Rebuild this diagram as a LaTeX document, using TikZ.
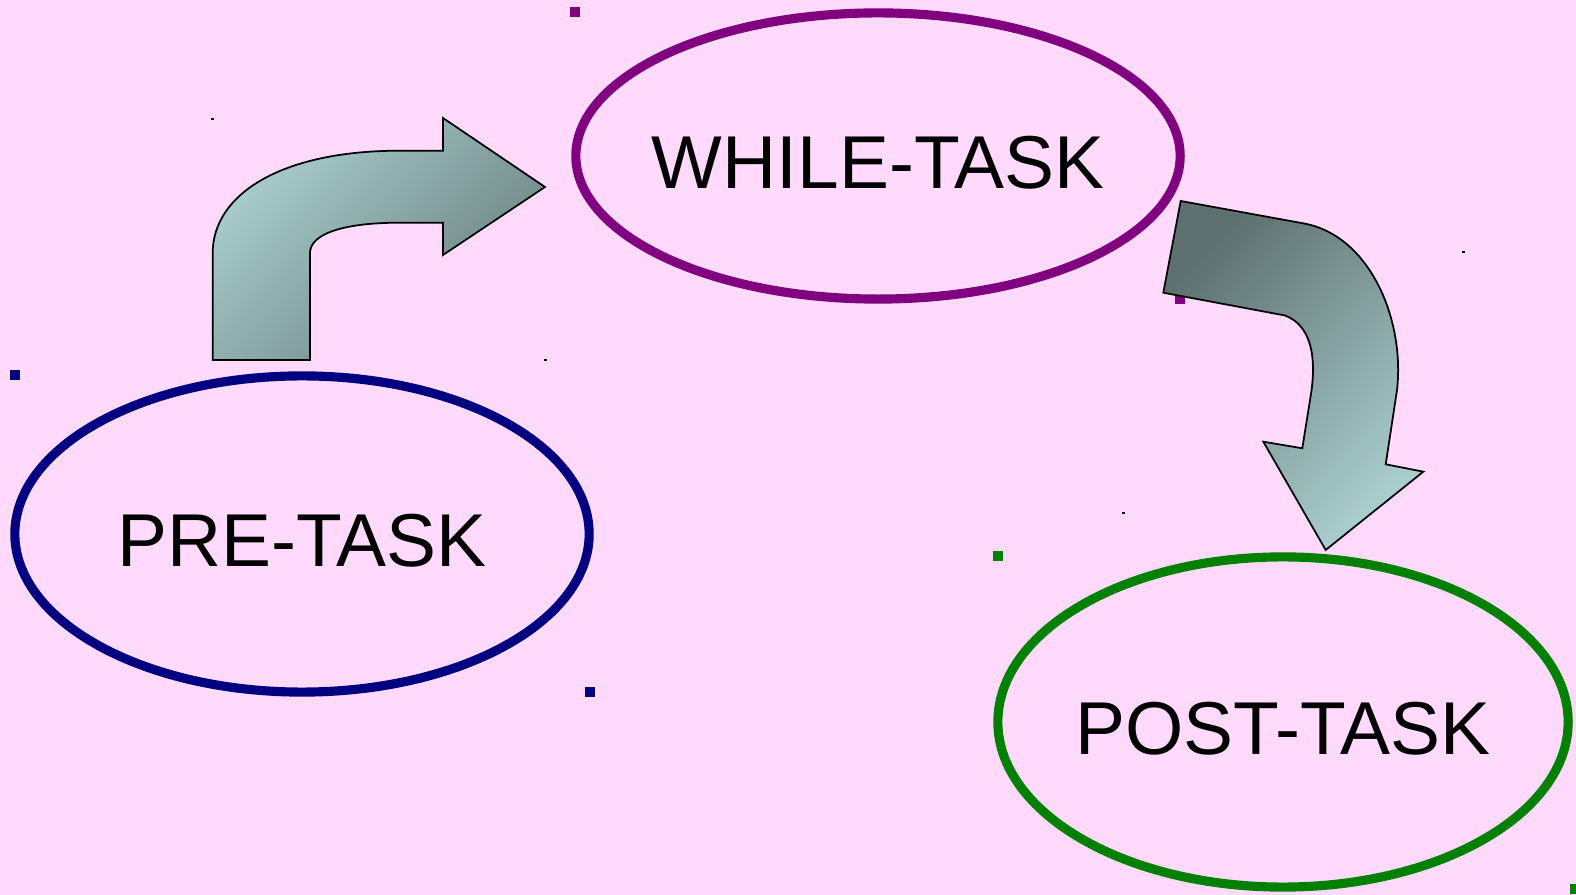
\documentclass[tikz,border=0pt]{standalone}
\usepackage{fontspec}
\setmainfont{Liberation Sans}
\usetikzlibrary{shapes.geometric}
\definecolor{bg}{HTML}{FFDAFC}
\definecolor{whilec}{HTML}{800080}
\definecolor{prec}{HTML}{000080}
\definecolor{postc}{HTML}{008000}
\definecolor{teallight}{HTML}{AACECE}
\definecolor{tealdark}{HTML}{5E7070}
\newcommand\tasktext[1]{\makebox[0pt]{\smash{\raisebox{-0.32cm}{#1}}}}

\begin{document}
\begin{tikzpicture}[
  x=0.01cm, y=-0.01cm,
  every node/.style={font=\fontsize{21.3}{25}\selectfont, text=black},
  task/.style={ellipse, draw, line width=2.6pt, inner sep=0pt},
  blockarrow/.style={draw=black, line width=0.5pt},
  handle/.style={fill=black}
]
\useasboundingbox (0,0) rectangle (1576,895);
\fill[bg] (0,0) rectangle (1576,895);

% selection handles
\fill[whilec] (570,7) rectangle (580,17);
\fill[whilec] (1175,294) rectangle (1185,304);
\fill[prec] (10,370) rectangle (20,380);
\fill[prec] (585,687) rectangle (595,697);
\fill[postc] (993,551) rectangle (1003,561);
\fill[postc] (1570,884) rectangle (1580,894);
\foreach \p in {(211,118),(544,359),(1122,512),(1462,251)}
  \fill[handle] \p rectangle +(3,2);

% the three stages
\node[task, draw=whilec, minimum width=6.04cm, minimum height=2.86cm]
  (while) at (878,156) {\tasktext{WHILE-TASK}};
\node[task, draw=prec, minimum width=5.74cm, minimum height=3.16cm]
  (pre) at (302,534) {\tasktext{PRE-TASK}};
\node[task, draw=postc, minimum width=5.70cm, minimum height=3.30cm]
  (post) at (1283,722) {\tasktext{POST-TASK}};

% curved block arrows
\shade[blockarrow, left color=teallight, right color=tealdark!85!teallight,
       shading angle=45]
  (212.7,360) -- (212.7,253)
  .. controls (212.7,195) and (280,150.7) .. (400,150.7)
  -- (443,150.7) -- (443,118) -- (545,187) -- (443,255) -- (443,222.7)
  -- (400,222.7) .. controls (340,222.7) and (310,235) .. (310,253)
  -- (310,360) -- cycle;
\shade[blockarrow, left color=tealdark, right color=teallight,
       shading angle=45]
  (1180.7,201) -- (1303,223.3)
  .. controls (1370,235) and (1405,320) .. (1397,390)
  -- (1385.7,464.3) -- (1423.3,471.7) -- (1325.7,550)
  -- (1263.3,441.7) -- (1302.3,448.3) -- (1310,400)
  .. controls (1318,355) and (1310,325) .. (1285,315.5)
  -- (1163.3,292.7) -- cycle;
\end{tikzpicture}
\end{document}
